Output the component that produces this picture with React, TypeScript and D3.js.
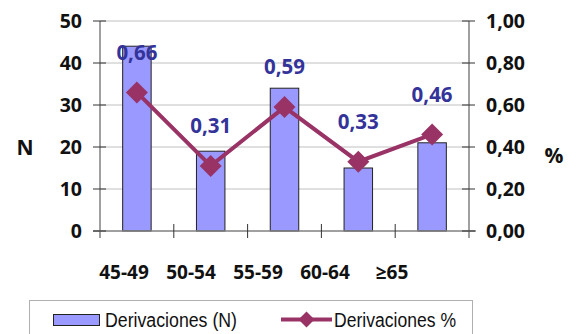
import React from "react";
import * as d3 from "d3";

const categories = ["45-49", "50-54", "55-59", "60-64", "≥65"];
const countValues = [44, 19, 34, 15, 21];
const pctValues = [0.66, 0.31, 0.59, 0.33, 0.46];
const pctLabels = ["0,66", "0,31", "0,59", "0,33", "0,46"];
const leftTicks = [0, 10, 20, 30, 40, 50];
const rightTicks = [0, 0.2, 0.4, 0.6, 0.8, 1.0];
const rightTickLabels = ["0,00", "0,20", "0,40", "0,60", "0,80", "1,00"];

const W = 576;
const H = 334;
const left = 100;
const right = 469;
const top = 21;
const bottom = 231;

export default function App() {
  const p = 0.614;
  const x = d3.scaleBand<string>().domain(categories).range([left, right]).paddingInner(p).paddingOuter(p / 2);
  const yL = d3.scaleLinear().domain([0, 50]).range([bottom, top]);
  const yR = d3.scaleLinear().domain([0, 1]).range([bottom, top]);
  const labelX = d3.scalePoint<string>().domain(categories).range([124, 392]);
  const step = x.step();
  const bw = x.bandwidth();
  const cx = (c: string) => (x(c) as number) + bw / 2;

  const line = d3
    .line<number>()
    .x((_, i) => cx(categories[i]))
    .y((d) => yR(d));

  const diamond = (px: number, py: number, r: number) =>
    `M${px},${py - r}L${px + r},${py}L${px},${py + r}L${px - r},${py}Z`;

  const numFont = "'Open Sans', Lato, sans-serif";
  const legFont = "'Liberation Sans', Arial, sans-serif";
  const axisColor = "#808080";

  return (
    <svg width={W} height={H} style={{ position: "absolute", left: 0, top: 0 }}>
      <rect width={W} height={H} fill="#fff" />
      {leftTicks.slice(1).map((t) => (
        <line key={"g" + t} x1={left} x2={right} y1={yL(t)} y2={yL(t)} stroke="#c0c0c0" strokeWidth={1} />
      ))}
      {categories.map((c, i) => (
        <rect
          key={"b" + c}
          x={x(c)}
          y={yL(countValues[i])}
          width={bw}
          height={bottom - yL(countValues[i])}
          fill="#9999FF"
          stroke="#222"
          strokeWidth={1}
        />
      ))}
      <line x1={left} x2={left} y1={top} y2={bottom + 7} stroke={axisColor} strokeWidth={1.5} />
      <line x1={right} x2={right} y1={top} y2={bottom + 7} stroke={axisColor} strokeWidth={1.5} />
      <line x1={left - 7} x2={right + 7} y1={bottom} y2={bottom} stroke={axisColor} strokeWidth={1.5} />
      {leftTicks.map((t) => (
        <g key={"lt" + t}>
          <line x1={left - 7} x2={left + 6} y1={yL(t)} y2={yL(t)} stroke="#333" strokeWidth={1} />
          <text x={left - 18} y={yL(t)} dy="0.36em" textAnchor="end" fontFamily={numFont} fontWeight="bold" fontSize={19.5} fill="#111">
            {t}
          </text>
        </g>
      ))}
      {rightTicks.map((t, i) => (
        <g key={"rt" + t}>
          <line x1={right - 7} x2={right + 6} y1={yR(t)} y2={yR(t)} stroke="#333" strokeWidth={1} />
          <text x={right + 17} y={yR(t)} dy="0.36em" textAnchor="start" fontFamily={numFont} fontWeight="bold" fontSize={19.5} fill="#111">
            {rightTickLabels[i]}
          </text>
        </g>
      ))}
      {categories.slice(0, -1).map((c) => (
        <line
          key={"ct" + c}
          x1={cx(c) + step / 2}
          x2={cx(c) + step / 2}
          y1={bottom - 7}
          y2={bottom + 7}
          stroke="#333"
          strokeWidth={1}
        />
      ))}
      <text x={25} y={147} dy="0.36em" textAnchor="middle" fontFamily={numFont} fontWeight="bold" fontSize={21} fill="#111">
        N
      </text>
      <text x={554} y={155} dy="0.36em" textAnchor="middle" fontFamily={numFont} fontWeight="bold" fontSize={21} fill="#111">
        %
      </text>
      {categories.map((c) => (
        <text key={"cl" + c} x={labelX(c)} y={272} dy="0.36em" textAnchor="middle" fontFamily={numFont} fontWeight="bold" fontSize={19} fill="#111">
          {c}
        </text>
      ))}
      <path d={line(pctValues) || ""} fill="none" stroke="#993366" strokeWidth={4} />
      {pctValues.map((v, i) => (
        <path key={"m" + i} d={diamond(cx(categories[i]), yR(v), 11)} fill="#993366" />
      ))}
      {pctValues.map((v, i) => (
        <text
          key={"dl" + i}
          x={cx(categories[i])}
          y={yR(v) - 40}
          dy="0.36em"
          textAnchor="middle"
          fontFamily={numFont}
          fontWeight="bold"
          fontSize={20.5}
          fill="#333399"
        >
          {pctLabels[i]}
        </text>
      ))}
      <rect x={29.5} y={300.5} width={443} height={50} fill="#fff" stroke="#b0b0b0" strokeWidth={1} />
      <rect x={53.5} y={314.5} width={46} height={11} fill="#9999FF" stroke="#222" strokeWidth={1} />
      <text x={105} y={320} dy="0.36em" fontFamily={legFont} fontSize={20} fill="#111" textLength={132} lengthAdjust="spacingAndGlyphs">
        Derivaciones (N)
      </text>
      <line x1={281} x2={332} y1={319.5} y2={319.5} stroke="#993366" strokeWidth={4} />
      <path d={diamond(306.5, 319.5, 8)} fill="#993366" />
      <text x={334} y={320} dy="0.36em" fontFamily={legFont} fontSize={20} fill="#111" textLength={122} lengthAdjust="spacingAndGlyphs">
        Derivaciones %
      </text>
    </svg>
  );
}
